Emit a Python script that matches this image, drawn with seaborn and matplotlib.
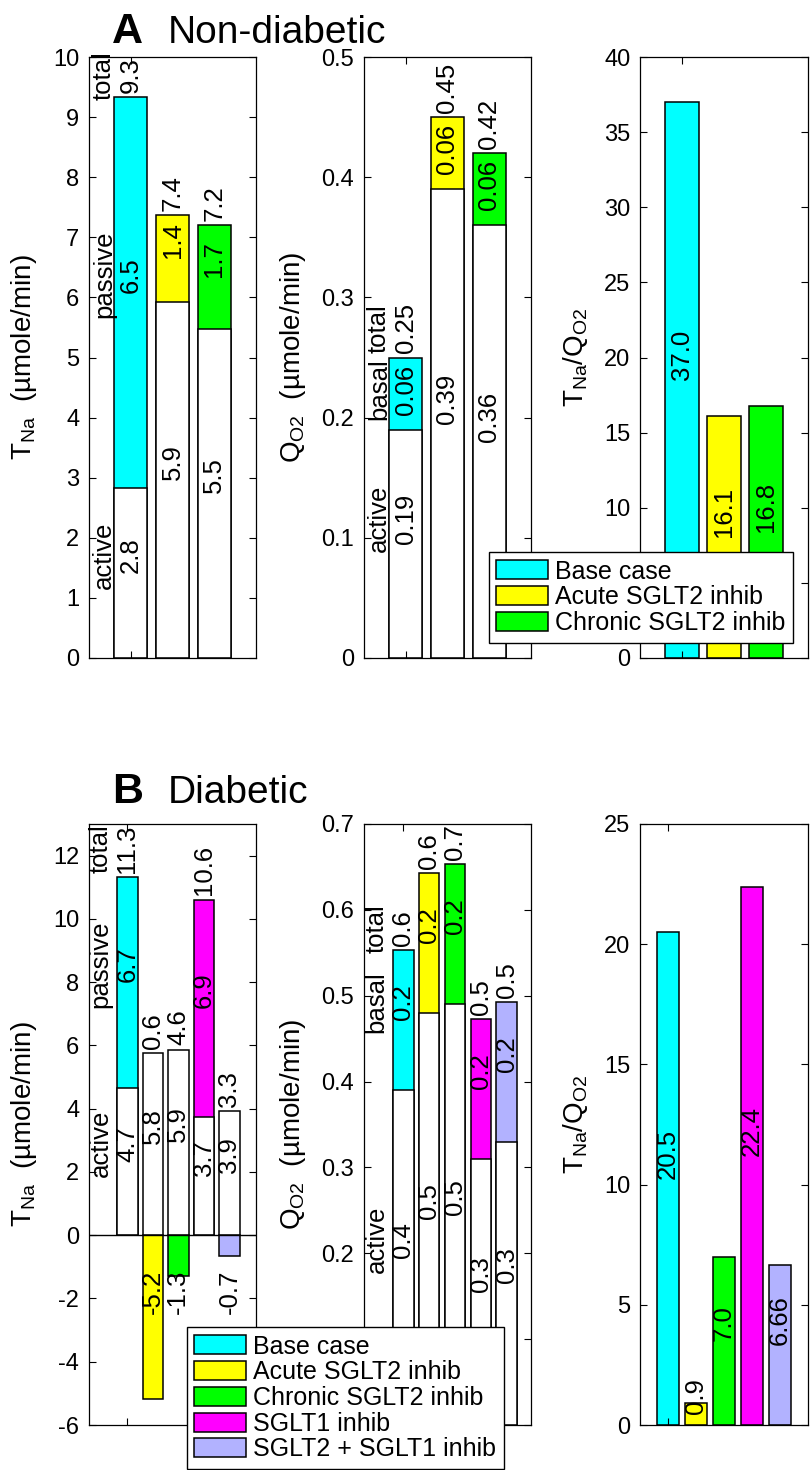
import pandas as pd
import seaborn as sns
import matplotlib.pyplot as plt
from matplotlib.patches import Patch

# Data: non-diabetic (panel A)
nd_cases = ["Base case", "Acute SGLT2 inhib", "Chronic SGLT2 inhib"]
nd_colors = ["#00FFFF", "#FFFF00", "#00FF00"]
nd_tna_active = [2.83, 5.93, 5.48]
nd_tna_passive = [6.50, 1.44, 1.72]
nd_qo2_active = [0.19, 0.39, 0.36]
nd_qo2_basal = [0.06, 0.06, 0.06]
nd_ratio = [37.0, 16.1, 16.8]
nd_ratio_labels = ["37.0", "16.1", "16.8"]

# Data: diabetic (panel B)
d_cases = ["Base case", "Acute SGLT2 inhib", "Chronic SGLT2 inhib",
           "SGLT1 inhib", "SGLT2 + SGLT1 inhib"]
d_colors = ["#00FFFF", "#FFFF00", "#00FF00", "#FF00FF", "#B2B2FF"]
d_tna_active = [4.66, 5.77, 5.87, 3.73, 3.92]
d_tna_passive = [6.66, -5.17, -1.30, 6.88, -0.66]
d_qo2_active = [0.39, 0.48, 0.49, 0.31, 0.33]
d_qo2_basal = [0.163, 0.163, 0.163, 0.163, 0.163]
d_ratio = [20.5, 0.9, 7.0, 22.4, 6.66]
d_ratio_labels = ["20.5", "0.9", "7.0", "22.4", "6.66"]

FS = 18.5
TICK_FS = 17
LABEL_FS = 20
LEG_FS = 18
W, H = 812, 1470

plt.rcParams["font.family"] = ["Liberation Sans", "DejaVu Sans"]
plt.rcParams["mathtext.default"] = "regular"

fig = plt.figure(figsize=(W / 100, H / 100), dpi=100)


def px_axes(x0, x1, y0, y1):
    return fig.add_axes([x0 / W, 1 - y1 / H, (x1 - x0) / W, (y1 - y0) / H])


clamps = []


def seg_label(ax, x, lo, hi, s):
    t = ax.text(x, (lo + hi) / 2, s, rotation=90, rotation_mode="anchor",
                ha="left", va="center", fontsize=FS, zorder=5)
    clamps.append((ax, t, lo, hi))
    return t


def cat_label(ax, t, s):
    ax.annotate(s, xy=(0, 0.5), xycoords=t, xytext=(-2, 0),
                textcoords="offset points", rotation=90,
                rotation_mode="anchor", ha="center", va="bottom",
                fontsize=FS, zorder=5)


def stacked(ax, cats, colors, active, second, fmt, names):
    colored = [s if s < 0 else a + s for a, s in zip(active, second)]
    df = pd.DataFrame({"case": cats, "colored": colored, "active": active})
    sns.barplot(data=df, x="case", y="colored", hue="case", order=cats,
                hue_order=cats, palette=colors, width=0.8, saturation=1,
                edgecolor="black", linewidth=1.1, errorbar=None,
                legend=False, ax=ax)
    sns.barplot(data=df, x="case", y="active", order=cats, color="white",
                width=0.8, saturation=1, edgecolor="black", linewidth=1.1,
                errorbar=None, ax=ax)
    for i, (a, s) in enumerate(zip(active, second)):
        t_act = seg_label(ax, i, 0, a, fmt % a)
        if s >= 0:
            t_sec = seg_label(ax, i, a, a + s, fmt % s)
        else:
            t_sec = ax.annotate(fmt % s, xy=(i, 0), xytext=(0, -25),
                                textcoords="offset points", rotation=90,
                                rotation_mode="anchor", ha="right",
                                va="center", fontsize=FS, zorder=5)
        t_tot = ax.annotate(fmt % (a + s), xy=(i, a + max(s, 0)),
                            xytext=(0, 3), textcoords="offset points",
                            rotation=90, rotation_mode="anchor", ha="left",
                            va="center", fontsize=FS, zorder=5)
        if i == 0:
            cat_label(ax, t_act, names[0])
            cat_label(ax, t_sec, names[1])
            cat_label(ax, t_tot, "total")


def ratio(ax, cats, colors, vals, labels):
    df = pd.DataFrame({"case": cats, "ratio": vals})
    sns.barplot(data=df, x="case", y="ratio", hue="case", order=cats,
                hue_order=cats, palette=colors, width=0.8, saturation=1,
                edgecolor="black", linewidth=1.1, errorbar=None,
                legend=False, ax=ax)
    for i, (v, s) in enumerate(zip(vals, labels)):
        ax.text(i, v / 2, s, rotation=90, rotation_mode="anchor",
                ha="left", va="center", fontsize=FS, zorder=5)


def style(ax, xlim, ylim, yticks, ylabel, hidden=()):
    ax.set_xlim(*xlim)
    ax.set_ylim(*ylim)
    ax.set_yticks(yticks)
    ax.set_yticklabels(["" if v in hidden else f"{v:g}" for v in yticks])
    ax.set_xticks([0])
    ax.set_xticklabels([""])
    ax.set_xlabel("")
    ax.set_ylabel(ylabel, fontsize=LABEL_FS, labelpad=10)
    ax.tick_params(direction="in", top=True, right=True, length=5,
                   width=0.8, labelsize=TICK_FS, pad=7, colors="black")
    ax.tick_params(axis="x", labelbottom=False)
    for sp in ax.spines.values():
        sp.set_linewidth(0.9)
        sp.set_color("black")


tna_label = "T$_{Na}$  (µmole/min)"
qo2_label = "Q$_{O2}$  (µmole/min)"
ratio_label = "T$_{Na}$/Q$_{O2}$"

# Panel A
a1 = px_axes(89, 256, 57, 658)
a2 = px_axes(364, 531, 57, 658)
a3 = px_axes(640, 808, 57, 658)
stacked(a1, nd_cases, nd_colors, nd_tna_active, nd_tna_passive, "%.1f",
        ["active", "passive"])
stacked(a2, nd_cases, nd_colors, nd_qo2_active, nd_qo2_basal, "%.2f",
        ["active", "basal"])
ratio(a3, nd_cases, nd_colors, nd_ratio, nd_ratio_labels)
style(a1, (-1, 3), (0, 10), list(range(0, 11)), tna_label)
style(a2, (-1, 3), (0, 0.5), [0, 0.1, 0.2, 0.3, 0.4, 0.5], qo2_label)
style(a3, (-1, 3), (0, 40), list(range(0, 41, 5)), ratio_label, hidden=(5,))

# Panel B
b1 = px_axes(89, 256, 824, 1425)
b2 = px_axes(364, 531, 824, 1425)
b3 = px_axes(640, 808, 824, 1425)
stacked(b1, d_cases, d_colors, d_tna_active, d_tna_passive, "%.1f",
        ["active", "passive"])
stacked(b2, d_cases, d_colors, d_qo2_active, d_qo2_basal, "%.1f",
        ["active", "basal"])
ratio(b3, d_cases, d_colors, d_ratio, d_ratio_labels)
b1.axhline(0, color="black", lw=1.0, zorder=3)
style(b1, (-1.5, 5.04), (-6, 13), list(range(-6, 13, 2)), tna_label)
style(b2, (-1.52, 4.94), (0, 0.7), [0, 0.1, 0.2, 0.3, 0.4, 0.5, 0.6, 0.7],
      qo2_label, hidden=(0, 0.1))
style(b3, (-1, 5), (0, 25), list(range(0, 26, 5)), ratio_label)

# Titles
for y, letter, name in [(43, "A", "Non-diabetic"), (803, "B", "Diabetic")]:
    fig.text(112 / W, 1 - y / H, letter, fontsize=31, fontweight="bold",
             va="baseline", ha="left")
    fig.text(168 / W, 1 - y / H, name, fontsize=28, va="baseline", ha="left")


# Legends
def legend(cases, colors, x0, y0):
    handles = [Patch(facecolor=c, edgecolor="black", linewidth=1.1, label=n)
               for n, c in zip(cases, colors)]
    fig.legend(handles=handles, loc="upper left",
               bbox_to_anchor=(x0 / W, 1 - y0 / H), fontsize=LEG_FS,
               frameon=True, fancybox=False, edgecolor="black",
               framealpha=1, handlelength=2.05, handleheight=0.8,
               handletextpad=0.3, labelspacing=0.07, borderpad=0.3,
               borderaxespad=0)


legend(nd_cases, nd_colors, 489, 552)
legend(d_cases, d_colors, 187, 1327)

# Keep inner labels inside their segment when they fit
fig.canvas.draw()
renderer = fig.canvas.get_renderer()
for ax, t, lo, hi in clamps:
    bb = t.get_window_extent(renderer)
    top_px = ax.transData.transform((0, hi))[1] - 7
    lo_px = ax.transData.transform((0, lo))[1]
    over = bb.y1 - top_px
    if over > 0 and bb.y0 - over >= lo_px:
        xd, yd = t.get_position()
        y_px = ax.transData.transform((xd, yd))[1] - over
        t.set_y(ax.transData.inverted().transform((0, y_px))[1])

fig.savefig("out.png", dpi=100)
